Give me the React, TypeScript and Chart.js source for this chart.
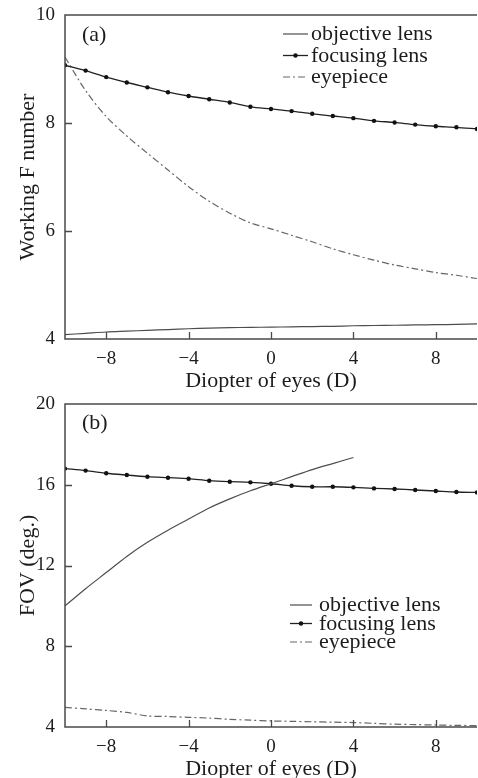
import React, { useEffect, useRef } from 'react';
import { Chart, registerables } from 'chart.js';

Chart.register(...registerables);

// ---------- data ----------
const diopters = [-10, -9, -8, -7, -6, -5, -4, -3, -2, -1, 0, 1, 2, 3, 4, 5, 6, 7, 8, 9, 10];
const xTickValues = [-8, -4, 0, 4, 8];

// (a) Working F number
const fObjective = [4.08, 4.105, 4.13, 4.145, 4.16, 4.175, 4.19, 4.2, 4.21, 4.215, 4.22, 4.225, 4.23, 4.235, 4.245, 4.25, 4.255, 4.26, 4.265, 4.27, 4.28];
const fFocusing = [9.07, 8.97, 8.85, 8.75, 8.66, 8.57, 8.5, 8.44, 8.38, 8.3, 8.26, 8.22, 8.17, 8.13, 8.09, 8.04, 8.01, 7.97, 7.94, 7.92, 7.89];
const fEyepiece = [9.22, 8.6, 8.12, 7.76, 7.44, 7.13, 6.82, 6.55, 6.33, 6.15, 6.04, 5.92, 5.8, 5.67, 5.56, 5.46, 5.37, 5.3, 5.23, 5.18, 5.12];

// (b) FOV (deg.)
const fovObjectiveDiopters = [-10, -9, -8, -7, -6, -5, -4, -3, -2, -1, 0, 1, 2, 3, 4];
const fovObjective = [10.0, 10.85, 11.65, 12.45, 13.15, 13.75, 14.3, 14.85, 15.3, 15.7, 16.05, 16.4, 16.75, 17.05, 17.35];
const fovFocusing = [16.8, 16.7, 16.57, 16.48, 16.4, 16.35, 16.3, 16.2, 16.15, 16.12, 16.05, 15.95, 15.9, 15.9, 15.87, 15.82, 15.79, 15.74, 15.69, 15.64, 15.62];
const fovEyepiece = [4.97, 4.9, 4.82, 4.72, 4.55, 4.52, 4.48, 4.44, 4.38, 4.34, 4.3, 4.28, 4.26, 4.24, 4.22, 4.18, 4.14, 4.12, 4.1, 4.08, 4.07];

const seriesLabels = ['objective lens', 'focusing lens', 'eyepiece'];

const FONT = '"Liberation Serif", "Times New Roman", serif';
const TEXT = '#1c1c1c';

const pts = (xs: number[], ys: number[]) => xs.map((x, i) => ({ x, y: ys[i] }));
const minus = (v: number) => (v < 0 ? '\u2212' + Math.abs(v) : String(v));

const decorPlugin = {
  id: 'decor',
  afterDraw(chart: any, _args: any, o: any) {
    const { ctx, chartArea } = chart;
    const { left, right, top, bottom } = chartArea;
    const xs = chart.scales.x;
    const ys = chart.scales.y;
    ctx.save();
    // frame: top, left, bottom
    ctx.strokeStyle = '#4a4a4a';
    ctx.lineWidth = 1.5;
    ctx.beginPath();
    ctx.moveTo(right, top);
    ctx.lineTo(left, top);
    ctx.lineTo(left, bottom);
    ctx.lineTo(right, bottom);
    ctx.stroke();
    // inward ticks
    ctx.lineWidth = 1.3;
    ctx.beginPath();
    xs.ticks.forEach((t: any) => {
      const px = Math.round(xs.getPixelForValue(t.value)) + 0.5;
      ctx.moveTo(px, bottom);
      ctx.lineTo(px, bottom - 7);
    });
    ys.ticks.forEach((t: any) => {
      const py = Math.round(ys.getPixelForValue(t.value)) + 0.5;
      if (py < top + 2 || py > bottom - 2) return;
      ctx.moveTo(left, py);
      ctx.lineTo(left + 7, py);
    });
    ctx.stroke();
    // panel label
    ctx.fillStyle = TEXT;
    ctx.font = `22px ${FONT}`;
    ctx.textBaseline = 'alphabetic';
    ctx.textAlign = 'left';
    ctx.fillText(o.label, o.labelX, o.labelY);
    // legend
    chart.data.datasets.forEach((ds: any, i: number) => {
      const y = o.legY + i * o.legDy;
      const ly = y - 6;
      ctx.strokeStyle = ds.borderColor;
      ctx.lineWidth = ds.borderWidth;
      ctx.setLineDash(ds.borderDash || []);
      ctx.beginPath();
      ctx.moveTo(o.legX0, ly);
      ctx.lineTo(o.legX1, ly);
      ctx.stroke();
      ctx.setLineDash([]);
      if (ds.pointRadius > 0) {
        ctx.fillStyle = ds.pointBackgroundColor;
        ctx.beginPath();
        ctx.arc((o.legX0 + o.legX1) / 2, ly, ds.pointRadius, 0, Math.PI * 2);
        ctx.fill();
      }
      ctx.fillStyle = TEXT;
      ctx.font = `22px ${FONT}`;
      ctx.fillText(ds.label, o.legTextX, y);
    });
    ctx.restore();
  },
};

function makeDatasets(objX: number[], obj: number[], foc: number[], eye: number[]) {
  return [
    {
      label: seriesLabels[0],
      data: pts(objX, obj),
      borderColor: '#4d4d4d',
      borderWidth: 1.2,
      pointRadius: 0,
      tension: 0.3,
    },
    {
      label: seriesLabels[1],
      data: pts(diopters, foc),
      borderColor: '#222222',
      borderWidth: 1.3,
      pointRadius: 2.2,
      pointBackgroundColor: '#111111',
      pointBorderWidth: 0,
      tension: 0.3,
    },
    {
      label: seriesLabels[2],
      data: pts(diopters, eye),
      borderColor: '#666666',
      borderWidth: 1.2,
      borderDash: [7, 3, 2, 3],
      pointRadius: 0,
      tension: 0.3,
    },
  ];
}

function makeConfig(p: any): any {
  return {
    type: 'line',
    data: { datasets: p.datasets },
    plugins: [decorPlugin],
    options: {
      animation: false,
      responsive: false,
      devicePixelRatio: 1,
      layout: { padding: { top: p.padTop, left: 0, right: 0, bottom: 0 } },
      plugins: {
        legend: { display: false },
        tooltip: { enabled: false },
        decor: p.decor,
      },
      scales: {
        x: {
          type: 'linear',
          min: -10,
          max: 10,
          grid: { display: false, drawTicks: false },
          border: { display: false },
          afterBuildTicks: (s: any) => {
            s.ticks = xTickValues.map((v) => ({ value: v }));
          },
          afterFit: (s: any) => {
            s.height = p.xAxisH;
            s.paddingLeft = 0;
            s.paddingRight = 0;
          },
          ticks: {
            autoSkip: false,
            maxRotation: 0,
            padding: p.xTickPad,
            color: TEXT,
            font: { family: FONT, size: 19 },
            callback: (v: any) => minus(Number(v)),
          },
          title: {
            display: true,
            text: 'Diopter of eyes (D)',
            color: TEXT,
            font: { family: FONT, size: 22, lineHeight: 1 },
            padding: { top: 0, bottom: p.xTitlePad },
          },
        },
        y: {
          type: 'linear',
          min: p.yMin,
          max: p.yMax,
          grid: { display: false, drawTicks: false },
          border: { display: false },
          afterBuildTicks: (s: any) => {
            s.ticks = p.yTicks.map((v: number) => ({ value: v }));
          },
          afterFit: (s: any) => {
            s.width = 65;
            s.paddingTop = 0;
            s.paddingBottom = 0;
          },
          ticks: {
            padding: 10,
            color: TEXT,
            font: { family: FONT, size: 19 },
            callback: (v: any) => minus(Number(v)),
          },
          title: {
            display: true,
            text: p.yTitle,
            color: TEXT,
            font: { family: FONT, size: 22, lineHeight: 1 },
            padding: { top: 17, bottom: 0 },
          },
        },
      },
    },
  };
}

const fTicks = [4, 6, 8, 10];
const fovTicks = [4, 8, 12, 16, 20];

function ChartCanvas({ config, width, height, top }: any) {
  const ref = useRef<HTMLCanvasElement | null>(null);
  useEffect(() => {
    if (!ref.current) return;
    const c = new Chart(ref.current, config);
    return () => c.destroy();
  }, []);
  return (
    <canvas
      ref={ref}
      width={width}
      height={height}
      style={{ position: 'absolute', left: 0, top, width, height }}
    />
  );
}

export default function App() {
  const topCfg = makeConfig({
    datasets: makeDatasets(diopters, fObjective, fFocusing, fEyepiece),
    padTop: 15,
    xAxisH: 57,
    xTickPad: 9,
    xTitlePad: 4,
    yMin: 4,
    yMax: 10,
    yTicks: fTicks,
    yTitle: 'Working F number',
    decor: { label: '(a)', labelX: 82, labelY: 41, legX0: 283, legX1: 308, legTextX: 311, legY: 40, legDy: 21.5 },
  });
  const botCfg = makeConfig({
    datasets: makeDatasets(fovObjectiveDiopters, fovObjective, fovFocusing, fovEyepiece),
    padTop: 8,
    xAxisH: 59,
    xTickPad: 9,
    xTitlePad: 6,
    yMin: 4,
    yMax: 20,
    yTicks: fovTicks,
    yTitle: 'FOV (deg.)',
    decor: { label: '(b)', labelX: 82, labelY: 33, legX0: 290, legX1: 312, legTextX: 319, legY: 215, legDy: 18.5 },
  });
  return (
    <div style={{ position: 'fixed', left: 0, top: 0, width: 478, height: 778, overflow: 'hidden', background: '#fff' }}>
      <ChartCanvas config={topCfg} width={481} height={396} top={0} />
      <ChartCanvas config={botCfg} width={481} height={390} top={396} />
    </div>
  );
}
